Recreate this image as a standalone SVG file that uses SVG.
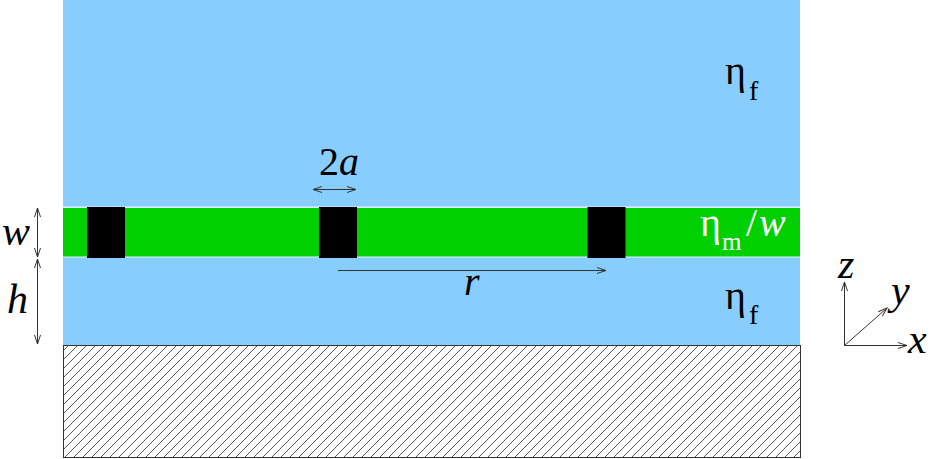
<svg xmlns="http://www.w3.org/2000/svg" width="931" height="459" viewBox="0 0 931 459">
<style>
.t{font-family:'Liberation Serif','Times New Roman',serif;font-size:40px;fill:#000}
.i{font-style:italic}
.b{font-size:42px}
.s{font-size:28px}
.sm{font-size:25px}
.w{fill:#fff}
.ar{stroke:#333;stroke-width:1;fill:none}
.blk{fill:#000}
</style>
<defs>
<pattern id="hatch" patternUnits="userSpaceOnUse" width="9" height="9">
<path d="M-1,1 L1,-1 M0,9 L9,0 M8,10 L10,8" stroke="#555" stroke-width="1"/>
</pattern>
<marker id="ah" markerWidth="10" markerHeight="8" refX="9" refY="4" orient="auto-start-reverse" markerUnits="userSpaceOnUse">
<path d="M0,1 L9,4 L0,7" fill="none" stroke="#333" stroke-width="1"/>
</marker>
</defs>
<g id="fluid">
<rect x="63" y="0" width="737" height="345" fill="#87CEFF"/>
</g>
<g id="membrane">
<rect x="63" y="206.5" width="737" height="51" fill="#dff3ff"/>
<rect x="63" y="208" width="737" height="48.5" fill="#00D000"/>
</g>
<g id="substrate">
<rect x="63.5" y="345.5" width="737" height="112" fill="#fff"/>
<rect x="63.5" y="345.5" width="737" height="112" fill="url(#hatch)" stroke="#333" stroke-width="1"/>
</g>
<g id="inclusion1"><rect class="blk" x="87" y="207" width="38" height="51"/></g>
<g id="inclusion2"><rect class="blk" x="319" y="207" width="38" height="51"/></g>
<g id="inclusion3"><rect class="blk" x="587.5" y="207" width="38" height="51"/></g>
<g id="connectors">
<line class="ar" x1="37.5" y1="208" x2="37.5" y2="257" marker-start="url(#ah)" marker-end="url(#ah)"/>
<line class="ar" x1="37.5" y1="259" x2="37.5" y2="344" marker-start="url(#ah)" marker-end="url(#ah)"/>
<line class="ar" x1="313" y1="189.5" x2="356" y2="189.5" marker-start="url(#ah)" marker-end="url(#ah)"/>
<line class="ar" x1="338" y1="270.5" x2="606" y2="270.5" marker-end="url(#ah)"/>
<line class="ar" x1="844.5" y1="345.5" x2="844.5" y2="282" marker-end="url(#ah)"/>
<line class="ar" x1="844.5" y1="345.5" x2="907" y2="345.5" marker-end="url(#ah)"/>
<line class="ar" x1="844.5" y1="345.5" x2="887" y2="308" marker-end="url(#ah)"/>
</g>
<g id="labels">
<text class="t"><tspan x="725" y="84">η</tspan><tspan class="s" x="749" y="100">f</tspan></text>
<text class="t w"><tspan x="700" y="236">η</tspan><tspan class="sm" x="722" y="250">m</tspan><tspan x="746" y="236">/</tspan><tspan class="i" x="759" y="236">w</tspan></text>
<text class="t"><tspan x="725" y="309">η</tspan><tspan class="s" x="749" y="324">f</tspan></text>
<text class="t i b" x="2" y="245">w</text>
<text class="t i b" x="7" y="313">h</text>
<text class="t" x="319" y="175">2<tspan class="i">a</tspan></text>
<text class="t i" x="464" y="295">r</text>
<text class="t i b" x="838" y="278">z</text>
<text class="t i b" x="891" y="304">y</text>
<text class="t i b" x="908" y="353">x</text>
</g>
</svg>
